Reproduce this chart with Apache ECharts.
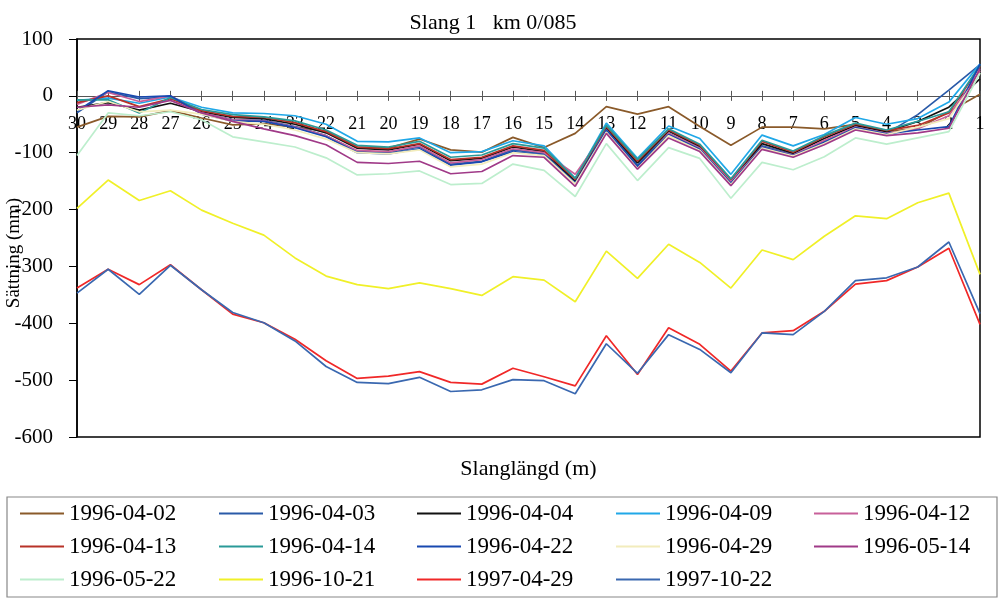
<!DOCTYPE html>
<html>
<head>
<meta charset="utf-8">
<script src="https://cdn.jsdelivr.net/npm/echarts@6/dist/echarts.min.js"></script>
<style>html,body{margin:0;padding:0;background:#fff}#c{width:1003px;height:601px}</style>
</head>
<body>
<div id="c"></div>
<script>
// Categories (position along the hose, m)
const categories = ['30','29','28','27','26','25','24','23','22','21','20','19','18','17','16','15','14','13','12','11','10','9','8','7','6','5','4','3','2','1'];
const yTicks = [-600,-500,-400,-300,-200,-100,0,100];

// Series values (mm)
const d_960402 = [-55,-36,-37,-26,-39,-51,-49,-55,-62,-90,-92,-76,-95,-99,-73,-91,-66,-19,-32,-19,-54,-87,-55,-55,-58,-50,-63,-57,-28,3];
const d_960403 = [-30,7,-5,-2,-30,-42,-43,-54,-70,-98,-100,-90,-120,-115,-95,-102,-152,-58,-122,-66,-92,-152,-88,-103,-80,-55,-66,-33,10,55];
const d_960404 = [-20,-12,-25,-13,-28,-38,-40,-50,-65,-92,-95,-85,-114,-110,-90,-98,-150,-56,-118,-62,-89,-149,-84,-101,-75,-52,-63,-45,-20,30];
const d_960409 = [-8,-4,-13,-2,-20,-30,-31,-35,-50,-80,-81,-74,-100,-98,-79,-88,-145,-48,-110,-53,-75,-138,-69,-88,-68,-38,-50,-40,-11,56];
const d_960412 = [-15,6,-10,0,-30,-42,-44,-55,-70,-96,-98,-88,-118,-112,-93,-100,-138,-60,-127,-66,-92,-150,-90,-104,-78,-55,-66,-58,-35,44];
const d_960413 = [-12,0,-19,-5,-26,-36,-38,-47,-63,-90,-93,-84,-112,-108,-88,-96,-147,-54,-115,-60,-87,-147,-80,-99,-72,-50,-61,-52,-30,52];
const d_960414 = [-7,-7,-30,-3,-24,-33,-37,-44,-60,-87,-90,-80,-108,-104,-84,-92,-145,-52,-112,-58,-85,-146,-78,-97,-70,-48,-60,-45,-28,54];
const d_960422 = [-27,9,-2,0,-32,-44,-45,-56,-72,-100,-102,-93,-122,-116,-98,-104,-153,-60,-124,-68,-94,-154,-90,-105,-82,-56,-67,-60,-54,56];
const d_960429 = [-25,-10,-28,-25,-32,-45,-50,-60,-76,-100,-102,-95,-125,-120,-100,-105,-155,-64,-128,-70,-96,-156,-92,-106,-84,-58,-68,-55,-40,40];
const d_960514 = [-20,-16,-20,-8,-30,-45,-58,-70,-86,-117,-119,-115,-137,-133,-105,-108,-159,-66,-129,-74,-98,-158,-94,-108,-86,-60,-70,-65,-57,48];
const d_960522 = [-105,-30,-35,-28,-42,-72,-81,-90,-109,-139,-137,-132,-156,-154,-120,-131,-177,-84,-149,-91,-110,-180,-117,-130,-107,-74,-85,-74,-63,40];
const d_961021 = [-198,-148,-184,-167,-201,-224,-245,-285,-317,-332,-339,-329,-339,-351,-318,-324,-362,-273,-321,-261,-293,-338,-271,-288,-247,-211,-216,-188,-171,-314];
const d_970429 = [-338,-305,-332,-297,-341,-384,-399,-428,-466,-497,-493,-485,-504,-507,-479,-494,-510,-422,-490,-408,-437,-484,-417,-413,-379,-331,-325,-301,-268,-402];
const d_971022 = [-347,-305,-349,-298,-341,-381,-399,-431,-476,-504,-506,-495,-520,-517,-499,-501,-524,-436,-488,-420,-446,-487,-417,-420,-379,-325,-320,-301,-257,-383];

const seriesNames = ['1996-04-02','1996-04-03','1996-04-04','1996-04-09','1996-04-12','1996-04-13','1996-04-14','1996-04-22','1996-04-29','1996-05-14','1996-05-22','1996-10-21','1997-04-29','1997-10-22'];
const seriesData = [d_960402,d_960403,d_960404,d_960409,d_960412,d_960413,d_960414,d_960422,d_960429,d_960514,d_960522,d_961021,d_970429,d_971022];
const seriesColors = ['#8a5a2a','#2a5aa8','#111111','#20a8e8','#c8609a','#b83228','#2a9a98','#1848b0','#f2ecbc','#a03a88','#bdeecd','#f0f028','#f02828','#3a68b0'];

const FONT = "'Liberation Serif','Times New Roman',serif";

const legendCols = [
  ['1996-04-02','1996-04-13','1996-05-22'],
  ['1996-04-03','1996-04-14','1996-10-21'],
  ['1996-04-04','1996-04-22','1997-04-29'],
  ['1996-04-09','1996-04-29','1997-10-22'],
  ['1996-04-12','1996-05-14']
];
const legendLeft = [20, 219, 417, 616, 814];

// plot geometry
const G = {left: 77, right: 23, top: 39, bottom: 164};
const plotH = 601 - G.top - G.bottom;
const yMin = yTicks[0], yMax = yTicks[yTicks.length - 1];
const zeroOffset = plotH * (yMax - 0) / (yMax - yMin); // distance from top edge to the zero line

const chart = echarts.init(document.getElementById('c'), null, {renderer:'canvas'});
chart.setOption({
  animation: false,
  backgroundColor: '#fff',
  title: {
    text: 'Slang 1   km 0/085',
    left: 488, top: 7, textAlign: 'center',
    textStyle: {fontSize: 22, fontWeight: 'normal', fontFamily: FONT, color: '#000'}
  },
  grid: [
    {left: G.left, right: G.right, top: G.top, bottom: G.bottom, show: true, borderColor: '#000', borderWidth: 1.5, backgroundColor: 'transparent', containLabel: false, outerBoundsMode: 'none'},
    // upper band: its bottom edge is the zero line (category labels hang from it)
    {left: G.left, right: G.right, top: G.top, height: zeroOffset, show: false, containLabel: false, outerBoundsMode: 'none'},
    // lower band: its top edge is the zero line (upward tick halves)
    {left: G.left, right: G.right, top: G.top + zeroOffset, bottom: G.bottom, show: false, containLabel: false, outerBoundsMode: 'none'}
  ],
  legend: legendCols.map((col, i) => ({
    data: col.map(n => ({name: n, icon: 'rect'})),
    orient: 'vertical',
    left: legendLeft[i],
    top: 502,
    padding: 0,
    itemWidth: 44,
    itemHeight: 2,
    itemGap: 10,
    selectedMode: false,
    textStyle: {fontSize: 23, fontFamily: FONT, color: '#000', height: 22, lineHeight: 22}
  })),
  graphic: [{
    type: 'rect',
    shape: {x: 7, y: 497, width: 990, height: 100},
    style: {fill: 'none', stroke: '#888', lineWidth: 1.2},
    silent: true
  }],
  xAxis: [{
    gridIndex: 0,
    type: 'category',
    data: categories,
    boundaryGap: false,
    axisLine: {show: false},
    axisTick: {show: false},
    axisLabel: {show: false},
    splitLine: {show: false}
  }, {
    gridIndex: 1,
    type: 'category',
    data: categories,
    boundaryGap: false,
    position: 'bottom',
    axisLine: {show: true, onZero: false, lineStyle: {color: '#555', width: 1}},
    axisTick: {show: true, length: 5, lineStyle: {color: '#555'}},
    axisLabel: {interval: 0, margin: 19, fontSize: 18, fontFamily: FONT, color: '#000'},
    splitLine: {show: false},
    name: 'Slanglängd (m)',
    nameLocation: 'middle',
    nameGap: 362,
    nameMoveOverlap: false,
    nameTextStyle: {fontSize: 22, fontFamily: FONT, color: '#000'}
  }, {
    gridIndex: 2,
    type: 'category',
    data: categories,
    boundaryGap: false,
    position: 'top',
    axisLine: {show: false, onZero: false},
    axisTick: {show: true, length: 5, lineStyle: {color: '#555'}},
    axisLabel: {show: false},
    splitLine: {show: false}
  }],
  yAxis: [{
    gridIndex: 0,
    type: 'value',
    min: yMin, max: yMax, interval: 100,
    axisLine: {show: true, onZero: false, lineStyle: {color: '#000', width: 1.5}},
    axisTick: {show: true, length: 8, lineStyle: {color: '#000'}},
    splitLine: {show: false},
    axisLabel: {fontSize: 21, margin: 24, fontFamily: FONT, color: '#000'},
    name: 'Sättning (mm)',
    nameLocation: 'middle',
    nameGap: 53,
    nameRotate: 90,
    nameMoveOverlap: false,
    nameTextStyle: {fontSize: 19, fontFamily: FONT, color: '#000', padding: [0, 30, 0, 0]}
  }, {
    gridIndex: 1, type: 'value', min: 0, max: 1, show: false
  }, {
    gridIndex: 2, type: 'value', min: 0, max: 1, show: false
  }],
  series: seriesNames.map((n, i) => ({
    name: n,
    type: 'line',
    xAxisIndex: 0,
    yAxisIndex: 0,
    data: seriesData[i],
    symbol: 'none',
    color: seriesColors[i],
    lineStyle: {width: 1.7, color: seriesColors[i]},
    emphasis: {disabled: true},
    z: 2
  }))
});
</script>
</body>
</html>
